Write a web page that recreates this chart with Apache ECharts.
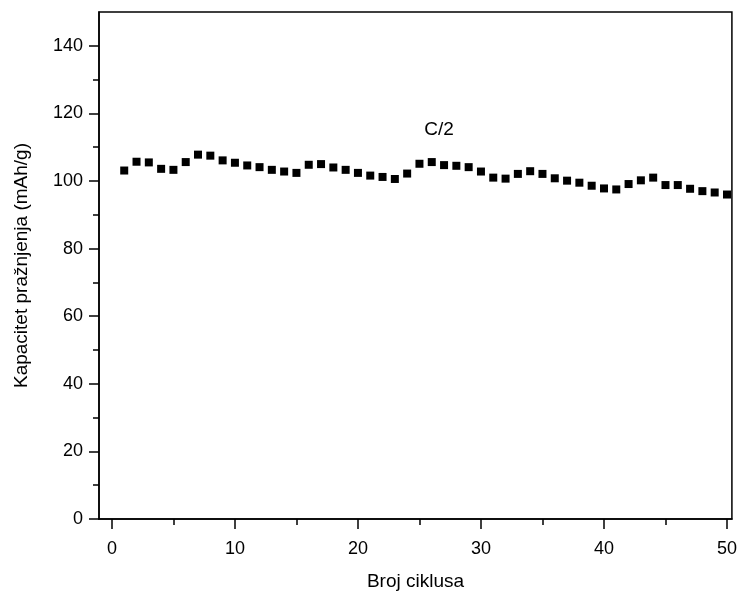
<!DOCTYPE html>
<html>
<head>
<meta charset="utf-8">
<script src="https://cdn.jsdelivr.net/npm/echarts@6/dist/echarts.min.js"></script>
<style>html,body{margin:0;padding:0;background:#fff;}#c{width:740px;height:597px;}</style>
</head>
<body>
<div id="c"></div>
<script>
const cycles = [];
for (let i = 1; i <= 50; i++) cycles.push(i);
const capacity = [103.1,105.7,105.5,103.6,103.3,105.6,107.8,107.5,106.1,105.4,
  104.6,104.1,103.3,102.8,102.4,104.8,105.0,104.0,103.3,102.4,
  101.6,101.2,100.6,102.2,105.1,105.6,104.7,104.5,104.1,102.8,
  101.0,100.7,102.1,102.9,102.1,100.8,100.1,99.5,98.6,97.8,
  97.5,99.1,100.2,101.0,98.8,98.8,97.7,97.0,96.6,96.0];
const xMajor = [0,10,20,30,40,50];
const xMinor = [5,15,25,35,45];
const yMajor = [0,20,40,60,80,100,120,140];
const yMinor = [10,30,50,70,90,110,130];
const xTitle = 'Broj ciklusa';
const yTitle = 'Kapacitet pražnjenja (mAh/g)';
const annotation = 'C/2';
const annotationAt = [26.6, 115.2];

const font = 'Liberation Sans, Arial, sans-serif';
const chart = echarts.init(document.getElementById('c'));
const baseX = {type:'value', min:-1.05, max:50.4, position:'bottom', splitLine:{show:false}};
const baseY = {type:'value', min:0, max:150, position:'left', splitLine:{show:false}};
chart.setOption({
  animation:false,
  grid:{left:99, right:6, top:12, bottom:78, show:true, borderColor:'#000', borderWidth:1.5, backgroundColor:'transparent'},
  xAxis:[
    Object.assign({}, baseX, {
      name:xTitle, nameLocation:'middle', nameGap:53,
      nameTextStyle:{fontFamily:font, fontSize:19, color:'#000'},
      axisLine:{show:true, onZero:false, lineStyle:{color:'#000', width:1.5}},
      axisTick:{show:true, customValues:xMajor, length:10, inside:false, lineStyle:{color:'#000', width:1.5}},
      axisLabel:{customValues:xMajor, fontFamily:font, fontSize:18, color:'#000', margin:21}
    }),
    Object.assign({}, baseX, {
      axisLine:{show:false, onZero:false},
      axisTick:{show:true, customValues:xMinor, length:6, lineStyle:{color:'#000', width:1.5}},
      axisLabel:{show:false}
    })
  ],
  yAxis:[
    Object.assign({}, baseY, {
      name:yTitle, nameLocation:'middle', nameGap:68, nameRotate:90,
      nameTextStyle:{fontFamily:font, fontSize:19, color:'#000'},
      axisLine:{show:true, onZero:false, lineStyle:{color:'#000', width:1.5}},
      axisTick:{show:true, customValues:yMajor, length:10, lineStyle:{color:'#000', width:1.5}},
      axisLabel:{customValues:yMajor, fontFamily:font, fontSize:18, color:'#000', margin:16}
    }),
    Object.assign({}, baseY, {
      axisLine:{show:false, onZero:false},
      axisTick:{show:true, customValues:yMinor, length:6, lineStyle:{color:'#000', width:1.5}},
      axisLabel:{show:false}
    })
  ],
  series:[{
    type:'scatter', xAxisIndex:0, yAxisIndex:0,
    symbol:'rect', symbolSize:8,
    itemStyle:{color:'#000', opacity:1},
    data:cycles.map((c,i)=>[c, capacity[i]])
  },{
    type:'scatter', xAxisIndex:0, yAxisIndex:0,
    symbol:'rect', symbolSize:1,
    itemStyle:{color:'rgba(0,0,0,0)', opacity:1},
    label:{show:true, position:'inside', formatter:annotation, fontFamily:font, fontSize:19, color:'#000', opacity:1},
    data:[annotationAt]
  }]
});
</script>
</body>
</html>
